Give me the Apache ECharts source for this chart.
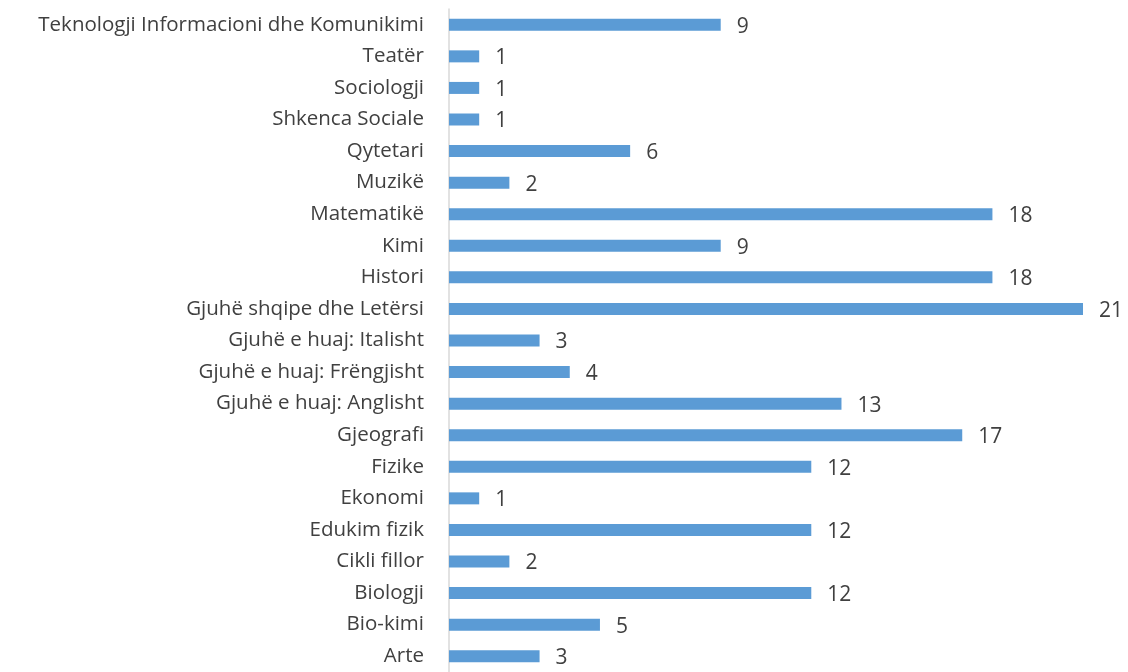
<!DOCTYPE html>
<html>
<head>
<meta charset="utf-8">
<script src="https://cdn.jsdelivr.net/npm/echarts@6/dist/echarts.min.js"></script>
<style>
  html, body { margin: 0; padding: 0; background: #fff; }
  #chart { width: 1128px; height: 672px; }
</style>
</head>
<body>
<div id="chart"></div>
<script>
// categories bottom to top, as ECharts draws a category y axis
var subjects = [
  'Arte', 'Bio-kimi', 'Biologji', 'Cikli fillor', 'Edukim fizik', 'Ekonomi',
  'Fizike', 'Gjeografi', 'Gjuhë e huaj: Anglisht', 'Gjuhë e huaj: Frëngjisht',
  'Gjuhë e huaj: Italisht', 'Gjuhë shqipe dhe Letërsi', 'Histori', 'Kimi',
  'Matematikë', 'Muzikë', 'Qytetari', 'Shkenca Sociale', 'Sociologji', 'Teatër',
  'Teknologji Informacioni dhe Komunikimi'
];
var counts = [3, 5, 12, 2, 12, 1, 12, 17, 13, 4, 3, 21, 18, 9, 18, 2, 6, 1, 1, 1, 9];

var myChart = echarts.init(document.getElementById('chart'));

var option = {
  backgroundColor: '#fff',
  animation: false,
  grid: { left: 449, right: 45, top: 9, bottom: -2, containLabel: false },
  xAxis: {
    type: 'value',
    min: 0,
    max: 21,
    show: false
  },
  yAxis: {
    type: 'category',
    data: subjects,
    axisLine: { show: true, lineStyle: { color: '#d9d9d9', width: 1.5 } },
    axisTick: { show: false },
    axisLabel: {
      color: '#404040',
      fontFamily: 'Open Sans',
      fontSize: 20.5,
      margin: 25,
      padding: [4, 0, 0, 0]
    }
  },
  series: [{
    type: 'bar',
    data: counts,
    barWidth: 12,
    itemStyle: { color: '#5b9bd5' },
    label: {
      show: true,
      position: 'right',
      distance: 16,
      offset: [0, 2],
      color: '#404040',
      fontFamily: 'Open Sans',
      fontSize: 21
    }
  }]
};

myChart.setOption(option);
</script>
</body>
</html>
